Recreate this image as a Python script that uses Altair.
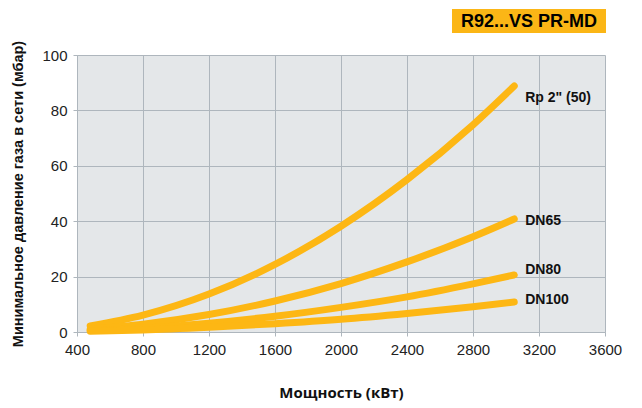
import altair as alt
import pandas as pd

power = [480, 800, 1200, 1600, 2000, 2400, 2800, 3050]
rp2 = [2.2, 6.1, 13.7, 24.4, 38.2, 55.0, 74.8, 88.8]
dn65 = [1.0, 2.8, 6.3, 11.2, 17.5, 25.3, 34.4, 40.8]
dn80 = [0.5, 1.4, 3.2, 5.7, 8.9, 12.7, 17.4, 20.6]
dn100 = [0.3, 0.7, 1.7, 3.0, 4.6, 6.7, 9.1, 10.8]

series_names = ['Rp 2" (50)', "DN65", "DN80", "DN100"]
series_values = [rp2, dn65, dn80, dn100]
label_y = [84.5, 40.0, 22.4, 11.6]
label_x = [3050, 3050, 3050, 3050]

box_title = "R92...VS PR-MD"
x_title = "Мощность (кВт)"
y_title = "Минимальное давление газа в сети (мбар)"

rows = []
for name, vals in zip(series_names, series_values):
    for p, v in zip(power, vals):
        rows.append({"series": name, "power": p, "pressure": v})
df = pd.DataFrame(rows)
labels_df = pd.DataFrame({"series": series_names, "power": label_x, "pressure": label_y})
box_df = pd.DataFrame({"t": [box_title]})

YELLOW = "#fdb714"
GRID = "#aeb6bd"

x_enc = alt.X(
    "power:Q",
    scale=alt.Scale(domain=[400, 3600], nice=False),
    axis=alt.Axis(values=list(range(400, 3601, 400)), title=x_title, format="d"),
)
y_enc = alt.Y(
    "pressure:Q",
    scale=alt.Scale(domain=[0, 100], nice=False),
    axis=alt.Axis(
        values=list(range(0, 101, 10)),
        labelExpr="datum.value % 20 == 0 ? datum.label : ''",
        title=y_title,
    ),
)

lines = alt.Chart(df).mark_line(
    color=YELLOW, strokeWidth=7, strokeCap="round", interpolate="monotone"
).encode(x=x_enc, y=y_enc, detail="series:N")

labels = alt.Chart(labels_df).mark_text(
    align="left", baseline="middle", dx=11, fontSize=14, fontWeight="bold",
    font="Liberation Sans", color="#111111"
).encode(x="power:Q", y="pressure:Q", text="series:N")

box = alt.Chart(box_df).mark_rect(color="#fbb616", clip=False).encode(
    x=alt.value(375), x2=alt.value(529), y=alt.value(-46), y2=alt.value(-22)
)
box_text = alt.Chart(box_df).mark_text(
    fontSize=18, fontWeight="bold", font="Liberation Sans", color="#000000",
    align="center", baseline="middle", clip=False
).encode(x=alt.value(452), y=alt.value(-33), text="t:N")

chart = alt.layer(lines, labels, box, box_text).properties(
    width=528, height=277,
    autosize=alt.AutoSizeParams(type="none"),
    padding={"left": 69, "top": 47, "right": 21, "bottom": 70},
).configure_view(
    fill="#e4e7e9", stroke=None
).configure_axis(
    gridColor=GRID, gridOpacity=1, gridWidth=1,
    domainColor=GRID, tickColor=GRID, tickSize=4,
    labelFont="Liberation Sans", labelFontSize=15, labelColor="#222222",
    titleFont="Liberation Sans Narrow, Liberation Sans", titleFontWeight="bold",
    titleColor="#111111",
).configure_axisX(
    labelPadding=6, titleFontSize=15, titlePadding=28,
    titleFont="Open Sans", labelFlush=False,
).configure_axisY(
    labelPadding=6, titleFontSize=14.5, titlePadding=16,
)

chart.save("out.html", embed_options={"renderer": "svg", "actions": False})
